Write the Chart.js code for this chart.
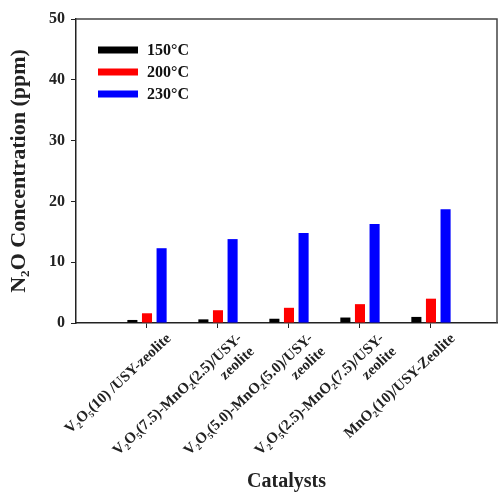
<!DOCTYPE html>
<html>
<head>
<meta charset="utf-8">
<script src="https://cdn.jsdelivr.net/npm/chart.js@4.4.1/dist/chart.umd.min.js"></script>
<style>
html,body{margin:0;padding:0;background:#fff;}
#wrap{width:499px;height:492px;}
</style>
</head>
<body>
<div id="wrap"><canvas id="c" width="499" height="492"></canvas></div>
<script>
const categories = [
  "V₂O₅(10) /USY-zeolite",
  ["V₂O₅(7.5)-MnO₂(2.5)/USY-", "zeolite"],
  ["V₂O₅(5.0)-MnO₂(5.0)/USY-", "zeolite"],
  ["V₂O₅(2.5)-MnO₂(7.5)/USY-", "zeolite"],
  "MnO₂(10)/USY-Zeolite"
];
const seriesNames = ["150°C", "200°C", "230°C"];
const values150 = [0.5, 0.6, 0.7, 0.9, 1.0];
const values200 = [1.6, 2.1, 2.5, 3.1, 4.0];
const values230 = [12.3, 13.8, 14.8, 16.3, 18.7];
const colors = ["#000000", "#ff0000", "#0000ff"];
const yTicks = [0, 10, 20, 30, 40, 50];

const FONT = "'Liberation Serif', 'Times New Roman', serif";

function toPoints(arr){ return arr.map((v,i)=>({x:i+1, y:v})); }

const frame = {
  id: 'frame',
  afterDatasetsDraw(chart){
    const {ctx, chartArea:a} = chart;
    ctx.save();
    ctx.strokeStyle = '#444';
    ctx.lineWidth = 1.5;
    ctx.beginPath();
    ctx.moveTo(a.left, a.top);
    ctx.lineTo(a.right, a.top);
    ctx.lineTo(a.right, a.bottom);
    ctx.stroke();
    ctx.restore();
  }
};

const innerLegend = {
  id: 'innerLegend',
  afterDraw(chart){
    const {ctx, chartArea:a} = chart;
    ctx.save();
    ctx.font = "bold 16px " + FONT;
    ctx.textBaseline = 'middle';
    ctx.textAlign = 'left';
    chart.data.datasets.forEach((ds, i) => {
      const y = a.top + 31 + i * 22;
      const x = a.left + 22;
      ctx.fillStyle = ds.backgroundColor;
      ctx.fillRect(x, y - 3.5, 40, 7);
      ctx.fillStyle = '#111';
      ctx.fillText(ds.label, x + 49, y + 1);
    });
    ctx.restore();
  }
};

new Chart(document.getElementById('c'), {
  type: 'bar',
  data: {
    datasets: [
      {label: seriesNames[0], data: toPoints(values150), backgroundColor: colors[0]},
      {label: seriesNames[1], data: toPoints(values200), backgroundColor: colors[1]},
      {label: seriesNames[2], data: toPoints(values230), backgroundColor: colors[2]}
    ]
  },
  options: {
    responsive: false,
    animation: false,
    layout: {padding: {top: 19, right: 2, left: 0, bottom: 0}},
    datasets: {bar: {categoryPercentage: 0.617, barPercentage: 0.69}},
    plugins: {legend: {display: false}, tooltip: {enabled: false}},
    scales: {
      x: {
        type: 'linear',
        min: 0,
        max: 5.93,
        offset: false,
        afterBuildTicks(scale){ scale.ticks = categories.map((c,i)=>({value:i+1})); },
        afterFit(scale){ scale.height = 169; },
        grid: {display: true, drawOnChartArea: false, drawTicks: true, tickLength: 5, color: '#222', offset: false},
        border: {display: true, color: '#222', width: 1.5},
        ticks: {
          autoSkip: false,
          maxRotation: 43,
          minRotation: 43,
          padding: 2,
          labelOffset: 22,
          color: '#222',
          font: {family: FONT, size: 15, weight: 'bold'},
          callback: (v) => categories[v-1]
        },
        title: {display: true, text: 'Catalysts', color: '#222', padding: {top: 0, bottom: -2},
          font: {family: FONT, size: 20, weight: 'bold'}}
      },
      y: {
        min: 0,
        max: 50,
        afterBuildTicks(scale){ scale.ticks = yTicks.map(v=>({value:v})); },
        afterFit(scale){ scale.width = 76; },
        grid: {display: true, drawOnChartArea: false, drawTicks: true, tickLength: 5, color: '#222'},
        border: {display: true, color: '#222', width: 1.5},
        ticks: {padding: 6, color: '#222', font: {family: FONT, size: 16, weight: 'bold'}},
        title: {display: true, text: 'N₂O Concentration (ppm)', color: '#222', padding: {top: 6, bottom: 0},
          font: {family: FONT, size: 22, weight: 'bold'}}
      }
    }
  },
  plugins: [frame, innerLegend]
});
</script>
</body>
</html>
